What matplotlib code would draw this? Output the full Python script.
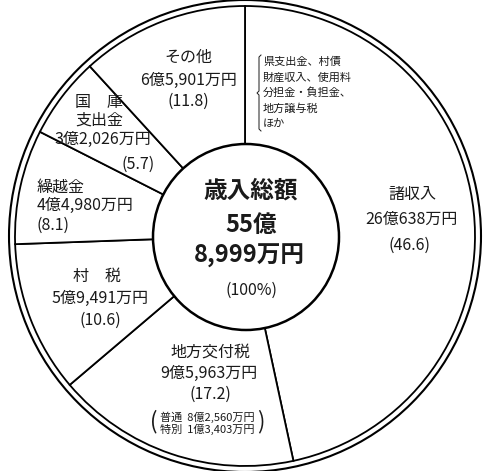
import matplotlib
matplotlib.use('Agg')
import matplotlib.pyplot as plt
from matplotlib.patches import Circle

plt.rcParams['font.family'] = ['Noto Sans CJK JP', 'DejaVu Sans']

# data (万円), clockwise from the top
labels = ['諸収入', '地方交付税', '村税', '繰越金', '国庫支出金', 'その他']
amounts = [260638, 95963, 59491, 44980, 32026, 65901]
shares = [46.6, 17.2, 10.6, 8.1, 5.7, 11.8]
total_text = ['歳入総額', '55億', '8,999万円']
koufu_detail = ['普通  8億2,560万円', '特別  1億3,403万円']
other_items = ['県支出金、村債', '財産収入、使用料', '分担金・負担金、', '地方譲与税', 'ほか']

W, H = 485, 471
INK = '#1a1a1a'

fig = plt.figure(figsize=(W / 100, H / 100), dpi=100, facecolor='white')
ax = fig.add_axes([0, 0, 1, 1])

def Y(y):
    # reference pixel rows -> data y
    return H - y

cx, cy = 245, 236
ax.pie(amounts, startangle=90, counterclock=False, radius=230,
       center=(cx, Y(cy)),
       wedgeprops=dict(facecolor='white', edgecolor='black', linewidth=1.3))
ax.add_patch(Circle((cx, Y(cy)), 236, fill=False, edgecolor='black', linewidth=1.5))
ax.add_patch(Circle((246, Y(237)), 93, facecolor='white', edgecolor='black',
                    linewidth=1.8, zorder=5))

ax.set_xlim(0, W)
ax.set_ylim(0, H)
ax.set_aspect('equal')
ax.axis('off')

def label(x, y, s, size=11.5, ha='center', **kw):
    ax.text(x, Y(y), s, ha=ha, va='center', fontsize=size, color=INK, zorder=6, **kw)

# centre
label(251, 191, total_text[0], size=17, fontweight='bold')
label(251, 225, total_text[1], size=17, fontweight='bold')
label(249, 256, total_text[2], size=17, fontweight='bold')
label(252, 290, '(100%)')

# 諸収入
label(412, 194, labels[0])
label(412, 219, '26億638万円')
label(410, 245, f'({shares[0]})')

# 地方交付税
label(210, 353, labels[1])
label(209, 373, '9億5,963万円')
label(210, 394, f'({shares[1]})')
label(207, 417, koufu_detail[0], size=8)
label(207, 429, koufu_detail[1], size=8)
label(154, 422, '(', size=16)
label(261, 422, ')', size=16)

# 村税
label(97, 276, '村　税')
label(100, 298, '5億9,491万円')
label(100, 320, f'({shares[2]})')

# 繰越金
label(37, 187, labels[3], ha='left')
label(37, 205, '4億4,980万円', ha='left')
label(37, 225, f'({shares[3]})', ha='left')

# 国庫支出金
label(99, 103, '国　庫')
label(99, 120, '支出金')
label(103, 139, '3億2,026万円')
label(138, 164, f'({shares[4]})')

# その他
label(188, 57, labels[5])
label(189, 80, '6億5,901万円')
label(188, 101, f'({shares[5]})')

# items included in その他
for i, s in enumerate(other_items):
    label(263, 62 + i * 15.5, s, size=8, ha='left')
bx = 259
ax.plot([bx + 2, bx, bx, bx - 2, bx, bx, bx + 2],
        [Y(55), Y(57), Y(91), Y(93), Y(95), Y(129), Y(131)],
        color=INK, linewidth=0.7, zorder=6)

fig.savefig('out.png', dpi=100, facecolor='white')
